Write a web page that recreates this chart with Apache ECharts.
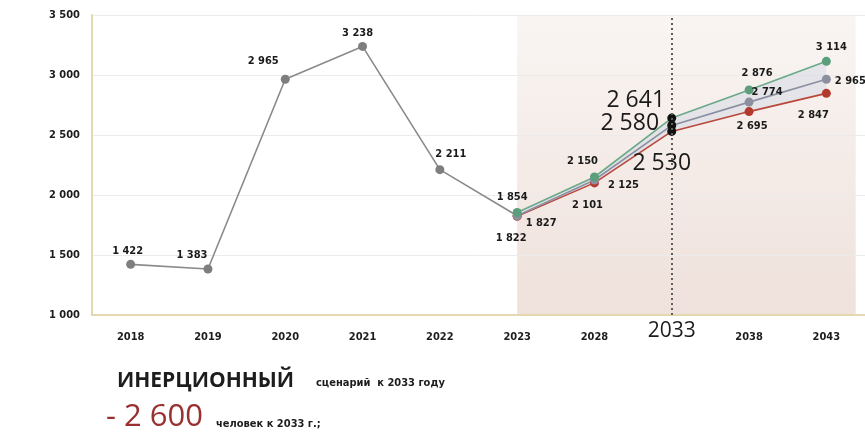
<!DOCTYPE html>
<html><head><meta charset="utf-8">
<script src="https://cdn.jsdelivr.net/npm/echarts@6/dist/echarts.min.js"></script>
<style>html,body{margin:0;padding:0;background:#fff}#c{width:865px;height:439px}</style>
</head><body><div id="c"></div>
<script>
// ---- data ----
const years = ['2018','2019','2020','2021','2022','2023','2028','2033','2038','2043'];
const history = [1422, 1383, 2965, 3238, 2211, 1827, null, null, null, null];
const optimistic = [null, null, null, null, null, 1854, 2150, 2641, 2876, 3114];
const baseline = [null, null, null, null, null, 1827, 2125, 2580, 2774, 2965];
const pessimistic = [null, null, null, null, null, 1822, 2101, 2530, 2695, 2847];
const yTicks = [1000, 1500, 2000, 2500, 3000, 3500];
const milestone = '2033';
const forecastStartIndex = 5;

// ---- style helpers ----
const fmt = n => String(n).replace(/\B(?=(\d{3})+(?!\d))/g, ' ');
const SMALL = 'bold 11px "DejaVu Sans Condensed", "DejaVu Sans", sans-serif';
const histOff = [[-3,-13],[-16,-14],[-22,-18],[-5,-13],[11,-16],null,null,null,null,null];
const optOff = [null,null,null,null,null,[-5,-15],[-12,-16],[-36,-18],[8,-17],[5,-14]];
const baseOff = [null,null,null,null,null,[24,7],[29,5],[-42,-2],[18,-10],[24,2]];
const pessOff = [null,null,null,null,null,[-6,22],[-7,22],[-10,32],[3,15],[-13,22]];

function build(values, offsets, markerColor) {
  return values.map((v, i) => {
    if (v == null) return null;
    const big = years[i] === milestone;
    const item = { value: v };
    if (offsets[i]) {
      item.label = {
        show: true, position: 'inside', offset: offsets[i],
        formatter: fmt(v),
        fontFamily: big ? '"Open Sans", sans-serif' : '"DejaVu Sans Condensed", "DejaVu Sans", sans-serif',
        fontWeight: big ? 500 : 'bold',
        fontSize: big ? 23 : 11,
        color: '#1a1a1a'
      };
    } else {
      item.label = { show: false };
    }
    if (big && markerColor) item.itemStyle = { color: '#111' };
    return item;
  });
}

const band = optimistic.map((v, i) => (v == null || pessimistic[i] == null) ? null : v - pessimistic[i]);

const chart = echarts.init(document.getElementById('c'));
chart.setOption({
  animation: false,
  grid: { left: 92, top: 15, width: 778, height: 300 },
  xAxis: [{
    type: 'category', data: years, boundaryGap: true,
    axisLine: { lineStyle: { color: '#e4d9ae', width: 2 } },
    axisTick: { show: false },
    axisLabel: {
      margin: 6, interval: 0,
      formatter: v => v === milestone ? '{b|' + v + '}' : '{s|' + v + '}',
      rich: {
        s: { fontFamily: '"DejaVu Sans Condensed", "DejaVu Sans", sans-serif', fontWeight: 'bold', fontSize: 11, color: '#1d1d1d', padding: [11, 0, 0, 0] },
        b: { fontFamily: '"Open Sans", sans-serif', fontSize: 21, color: '#1d1d1d' }
      }
    },
    splitLine: { show: false }
  }, {
    type: 'value', min: 0, max: 10, show: false
  }],
  yAxis: {
    type: 'value', min: yTicks[0], max: yTicks[yTicks.length - 1], interval: yTicks[1] - yTicks[0],
    axisLine: { show: true, lineStyle: { color: '#e4d9ae', width: 2 } },
    axisTick: { show: false },
    axisLabel: { formatter: fmt, margin: 12, fontFamily: '"DejaVu Sans Condensed", "DejaVu Sans", sans-serif', fontWeight: 'bold', fontSize: 11, color: '#1d1d1d' },
    splitLine: { lineStyle: { color: '#ebebeb', width: 1 } }
  },
  series: [
    {
      type: 'line', xAxisIndex: 1, data: [], silent: true,
      markArea: {
        silent: true, z: -1,
        itemStyle: { color: new echarts.graphic.LinearGradient(0, 0, 0, 1, [
          { offset: 0, color: '#f9f5f3' }, { offset: 1, color: '#efe1db' }]) },
        data: [[{ xAxis: forecastStartIndex + 0.5, yAxis: yTicks[0] }, { xAxis: 9.88, yAxis: yTicks[yTicks.length - 1] }]]
      },
      markLine: {
        silent: true, symbol: 'none', z: 5,
        label: { show: false },
        lineStyle: { type: [2, 3], color: '#5e5e5e', width: 2 },
        data: [{ xAxis: years.indexOf(milestone) + 0.5 }]
      }
    },
    { type: 'line', data: pessimistic, stack: 'band', symbol: 'none', lineStyle: { width: 0 }, silent: true, z: 1 },
    { type: 'line', data: band, stack: 'band', symbol: 'none', lineStyle: { width: 0 }, silent: true, z: 1,
      areaStyle: { color: 'rgba(205,212,226,0.6)' } },
    { type: 'line', data: build(history, histOff, false), symbol: 'circle', symbolSize: 9,
      lineStyle: { color: '#8a8a8a', width: 1.6 }, itemStyle: { color: '#7e7e7e' }, z: 3 },
    { type: 'line', data: build(pessimistic, pessOff, true), symbol: 'circle', symbolSize: 9,
      lineStyle: { color: '#b9473b', width: 1.6 }, itemStyle: { color: '#b3392d' }, z: 4 },
    { type: 'line', data: build(baseline, baseOff, true), symbol: 'circle', symbolSize: 9,
      lineStyle: { color: '#8a90a2', width: 1.6 }, itemStyle: { color: '#8b8f9e' }, z: 4 },
    { type: 'line', data: build(optimistic, optOff, true), symbol: 'circle', symbolSize: 9,
      lineStyle: { color: '#6aa98a', width: 1.6 }, itemStyle: { color: '#5b9e7b' }, z: 4 }
  ],
  graphic: [
    { type: 'text', x: 117, y: 381, style: { text: 'ИНЕРЦИОННЫЙ', font: 'bold 21px "Open Sans", sans-serif', fill: '#1d1d1d', verticalAlign: 'middle' } },
    { type: 'text', x: 316, y: 383, style: { text: 'сценарий  к 2033 году', font: SMALL, fill: '#1d1d1d', verticalAlign: 'middle' } },
    { type: 'text', x: 106, y: 417, style: { text: '- 2 600', font: '31px "Open Sans", sans-serif', fill: '#9a3131', verticalAlign: 'middle' } },
    { type: 'text', x: 216, y: 424, style: { text: 'человек к 2033 г.;', font: SMALL, fill: '#1d1d1d', verticalAlign: 'middle' } }
  ]
});
</script>
</body></html>
